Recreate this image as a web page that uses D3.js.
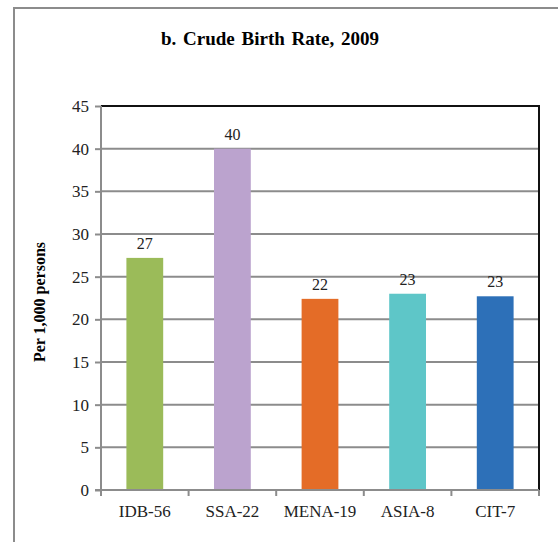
<!DOCTYPE html>
<html>
<head>
<meta charset="utf-8">
<script src="https://cdn.jsdelivr.net/npm/d3@7"></script>
<style>
  body { margin: 0; background: #fff; }
</style>
</head>
<body>
<div id="chart"></div>
<script>
const regions = ["IDB-56", "SSA-22", "MENA-19", "ASIA-8", "CIT-7"];
const birthRates = [27.2, 40.0, 22.4, 23.0, 22.7];
const barLabels = ["27", "40", "22", "23", "23"];
const barColors = ["#9bbb59", "#bba3ce", "#e46c27", "#5ec6c8", "#2d70b8"];
const yTicks = [0, 5, 10, 15, 20, 25, 30, 35, 40, 45];

const width = 558;
const height = 542;
const margin = { top: 106, right: 19, bottom: 52, left: 101 };
const serif = "'Liberation Serif', 'Times New Roman', serif";

const svg = d3.select("#chart")
  .append("svg")
  .attr("width", width)
  .attr("height", height)
  .attr("font-family", serif);

// outer frame (only top and left edges are visible)
svg.append("path")
  .attr("d", `M14,${height} L14,8 L${width},8`)
  .attr("fill", "none")
  .attr("stroke", "#8c8c8c")
  .attr("stroke-width", 2);

svg.append("text")
  .attr("x", 270)
  .attr("y", 45)
  .attr("text-anchor", "middle")
  .attr("font-size", 19)
  .attr("font-weight", "bold")
  .style("word-spacing", "2px")
  .text("b. Crude Birth Rate, 2009");

const x = d3.scaleBand()
  .domain(regions)
  .range([margin.left, width - margin.right])
  .paddingInner(0.58)
  .paddingOuter(0.29);

const y = d3.scaleLinear()
  .domain([0, 45])
  .range([height - margin.bottom, margin.top]);

// gridlines
svg.append("g")
  .selectAll("line")
  .data(yTicks.filter(d => d > 0 && d < 45))
  .join("line")
  .attr("x1", margin.left)
  .attr("x2", width - margin.right)
  .attr("y1", d => y(d))
  .attr("y2", d => y(d))
  .attr("stroke", "#8c8c8c")
  .attr("stroke-width", 2);

// top and right border of plot area
svg.append("path")
  .attr("d", `M${margin.left},${y(45)} L${width - margin.right},${y(45)} L${width - margin.right},${y(0)}`)
  .attr("fill", "none")
  .attr("stroke", "#111")
  .attr("stroke-width", 2);

// bars
svg.append("g")
  .selectAll("rect")
  .data(regions)
  .join("rect")
  .attr("x", d => x(d))
  .attr("width", x.bandwidth())
  .attr("y", (d, i) => y(birthRates[i]))
  .attr("height", (d, i) => y(0) - y(birthRates[i]))
  .attr("fill", (d, i) => barColors[i]);

// data labels
svg.append("g")
  .selectAll("text")
  .data(regions)
  .join("text")
  .attr("x", d => x(d) + x.bandwidth() / 2)
  .attr("y", (d, i) => y(birthRates[i]) - 9)
  .attr("text-anchor", "middle")
  .attr("font-size", 16)
  .attr("fill", "#222")
  .text((d, i) => barLabels[i]);

// y axis
const yAxis = svg.append("g")
  .attr("transform", `translate(${margin.left},0)`)
  .call(d3.axisLeft(y).tickValues(yTicks).tickSize(6).tickPadding(6))
  .attr("font-family", serif)
  .attr("font-size", 17);
yAxis.selectAll("line, path").attr("stroke", "#8c8c8c").attr("stroke-width", 2);
yAxis.select(".domain").attr("d", `M0,${y(0)}V${y(45)}`);
yAxis.selectAll("text").attr("fill", "#222");

// x axis
const xAxis = svg.append("g")
  .attr("transform", `translate(0,${y(0)})`)
  .call(d3.axisBottom(x).tickSize(0).tickPadding(15))
  .attr("font-family", serif)
  .attr("font-size", 17);
xAxis.select(".domain").attr("stroke", "#8c8c8c").attr("stroke-width", 2)
  .attr("d", `M${margin.left - 6},0H${width - margin.right}`);
xAxis.selectAll("text").attr("fill", "#222");

// x tick marks at band boundaries
const bounds = regions.map(d => x(d) - x.step() * x.paddingInner() / 2);
bounds.push(width - margin.right);
bounds[0] = margin.left;
xAxis.append("g")
  .selectAll("line")
  .data(bounds)
  .join("line")
  .attr("x1", d => d)
  .attr("x2", d => d)
  .attr("y1", 0)
  .attr("y2", 6)
  .attr("stroke", "#8c8c8c")
  .attr("stroke-width", 2);

svg.append("text")
  .attr("transform", `translate(45,${(y(0) + y(45)) / 2 + 4}) rotate(-90)`)
  .attr("text-anchor", "middle")
  .attr("font-size", 16)
  .attr("font-weight", "bold")
  .text("Per 1,000 persons");
</script>
</body>
</html>
